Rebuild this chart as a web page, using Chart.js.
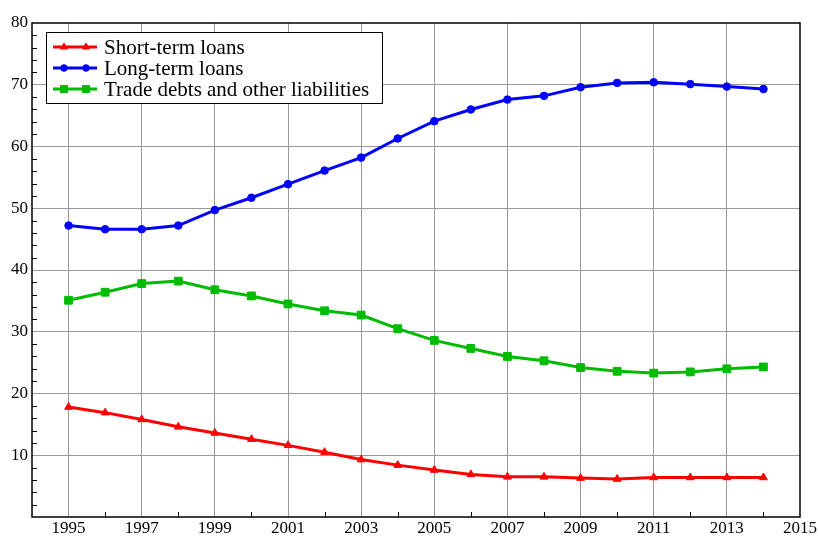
<!DOCTYPE html>
<html>
<head>
<meta charset="utf-8">
<script src="https://cdn.jsdelivr.net/npm/chart.js@4/dist/chart.umd.min.js"></script>
<style>
  html, body { margin: 0; padding: 0; background: #fff; }
  #wrap { width: 818px; height: 536px; position: relative; }
</style>
</head>
<body>
<div id="wrap"><canvas id="c"></canvas></div>
<script>
    // Data
    var years = [1995, 1996, 1997, 1998, 1999, 2000, 2001, 2002, 2003, 2004,
                 2005, 2006, 2007, 2008, 2009, 2010, 2011, 2012, 2013, 2014];
    var shortTerm = [17.8, 16.9, 15.8, 14.6, 13.6, 12.6, 11.6, 10.5, 9.3, 8.4,
                     7.6, 6.9, 6.5, 6.5, 6.3, 6.15, 6.4, 6.4, 6.4, 6.4];
    var longTerm = [47.2, 46.6, 46.6, 47.2, 49.7, 51.7, 53.9, 56.1, 58.2, 61.3,
                    64.1, 66.0, 67.6, 68.2, 69.6, 70.3, 70.4, 70.1, 69.7, 69.3];
    var tradeDebts = [35.1, 36.4, 37.8, 38.2, 36.8, 35.8, 34.5, 33.4, 32.7, 30.5,
                      28.6, 27.3, 26.0, 25.3, 24.2, 23.6, 23.3, 23.5, 24.0, 24.3];
    var seriesNames = ['Short-term loans', 'Long-term loans', 'Trade debts and other liabilities'];
    var xMin = 1994, xMax = 2015;
    var yMin = 0, yMax = 80;

    var FONT = '"Liberation Serif", "DejaVu Serif", serif';

    function toPoints(vals) {
        return vals.map(function(v, i) { return { x: years[i], y: v }; });
    }

    // Legend drawn inside the plot, plus frame and minor ticks
    var framePlugin = {
        id: 'frame',
        afterDraw: function(chart) {
            var ctx = chart.ctx;
            var a = chart.chartArea;
            var xs = chart.scales.x, ys = chart.scales.y;

            ctx.save();
            ctx.strokeStyle = '#000';
            ctx.lineWidth = 1;
            // minor ticks on y (every 2)
            ctx.beginPath();
            for (var v = yMin + 2; v < yMax; v += 2) {
                if (v % 10 === 0) { continue; }
                var py = Math.round(ys.getPixelForValue(v)) + 0.5;
                ctx.moveTo(a.left, py);
                ctx.lineTo(a.left + 5, py);
            }
            // minor ticks on x (even years)
            for (var yr = xMin + 2; yr < xMax; yr += 2) {
                var px = Math.round(xs.getPixelForValue(yr)) + 0.5;
                ctx.moveTo(px, a.bottom);
                ctx.lineTo(px, a.bottom - 5);
            }
            ctx.stroke();

            // frame
            ctx.lineWidth = 1.5;
            ctx.strokeRect(a.left, a.top, a.right - a.left, a.bottom - a.top);

            // legend box
            var bx = 46, by = 32, bw = 336, bh = 71;
            ctx.fillStyle = '#fff';
            ctx.fillRect(bx, by, bw, bh);
            ctx.lineWidth = 1;
            ctx.strokeRect(bx + 0.5, by + 0.5, bw, bh);

            ctx.font = '21px ' + FONT;
            ctx.textBaseline = 'middle';
            chart.data.datasets.forEach(function(ds, i) {
                var cy = 47 + i * 21;
                ctx.strokeStyle = ds.borderColor;
                ctx.lineWidth = 3;
                ctx.beginPath();
                ctx.moveTo(53, cy);
                ctx.lineTo(97, cy);
                ctx.stroke();
                if (Chart.helpers && Chart.helpers.drawPoint) {
                    ctx.fillStyle = ds.pointBackgroundColor;
                    ctx.strokeStyle = ds.borderColor;
                    ctx.lineWidth = 1;
                    var opts = { pointStyle: ds.pointStyle, radius: ds.pointRadius - 0.5, rotation: 0, borderWidth: 1 };
                    Chart.helpers.drawPoint(ctx, opts, 64, cy);
                    Chart.helpers.drawPoint(ctx, opts, 86, cy);
                }
                ctx.fillStyle = '#000';
                ctx.fillText(ds.label, 104, cy + 1);
            });
            ctx.restore();
        }
    };

    function makeSet(label, vals, color, style, radius) {
        return {
            label: label,
            data: toPoints(vals),
            borderColor: color,
            backgroundColor: color,
            pointBackgroundColor: color,
            pointBorderColor: color,
            borderWidth: 3,
            pointStyle: style,
            pointRadius: radius,
            pointBorderWidth: 1,
            tension: 0,
            fill: false
        };
    }

    new Chart(document.getElementById('c'), {
        type: 'line',
        data: {
            datasets: [
                makeSet(seriesNames[0], shortTerm, '#ff0000', 'triangle', 4.5),
                makeSet(seriesNames[1], longTerm, '#0000ff', 'circle', 3.8),
                makeSet(seriesNames[2], tradeDebts, '#00bb00', 'rect', 5.5)
            ]
        },
        options: {
            responsive: true,
            maintainAspectRatio: false,
            animation: false,
            layout: { padding: { top: 23, right: 17, left: 0, bottom: 0 } },
            plugins: {
                legend: { display: false },
                tooltip: { enabled: false }
            },
            scales: {
                x: {
                    type: 'linear',
                    min: xMin,
                    max: xMax,
                    afterBuildTicks: function(scale) {
                        var t = [];
                        for (var yr = 1995; yr <= xMax; yr += 2) { t.push({ value: yr }); }
                        scale.ticks = t;
                    },
                    afterFit: function(scale) { scale.height = 19; },
                    grid: {
                        color: function(c) { return c.tick && c.tick.value === xMax ? 'rgba(0,0,0,0)' : '#999'; },
                        lineWidth: 1,
                        drawTicks: false
                    },
                    border: { display: false },
                    ticks: {
                        color: '#000',
                        font: { family: FONT, size: 17 },
                        padding: 1,
                        maxRotation: 0,
                        autoSkip: false,
                        callback: function(v) { return String(v); }
                    }
                },
                y: {
                    min: yMin,
                    max: yMax,
                    afterFit: function(scale) { scale.width = 32; },
                    grid: {
                        color: function(c) { return (c.tick && (c.tick.value === yMin || c.tick.value === yMax)) ? 'rgba(0,0,0,0)' : '#999'; },
                        lineWidth: 1,
                        drawTicks: false
                    },
                    border: { display: false },
                    ticks: {
                        stepSize: 10,
                        color: '#000',
                        font: { family: FONT, size: 17 },
                        padding: 4,
                        callback: function(v) { return v === 0 ? '' : String(v); }
                    }
                }
            }
        },
        plugins: [framePlugin]
    });
</script>
</body>
</html>
